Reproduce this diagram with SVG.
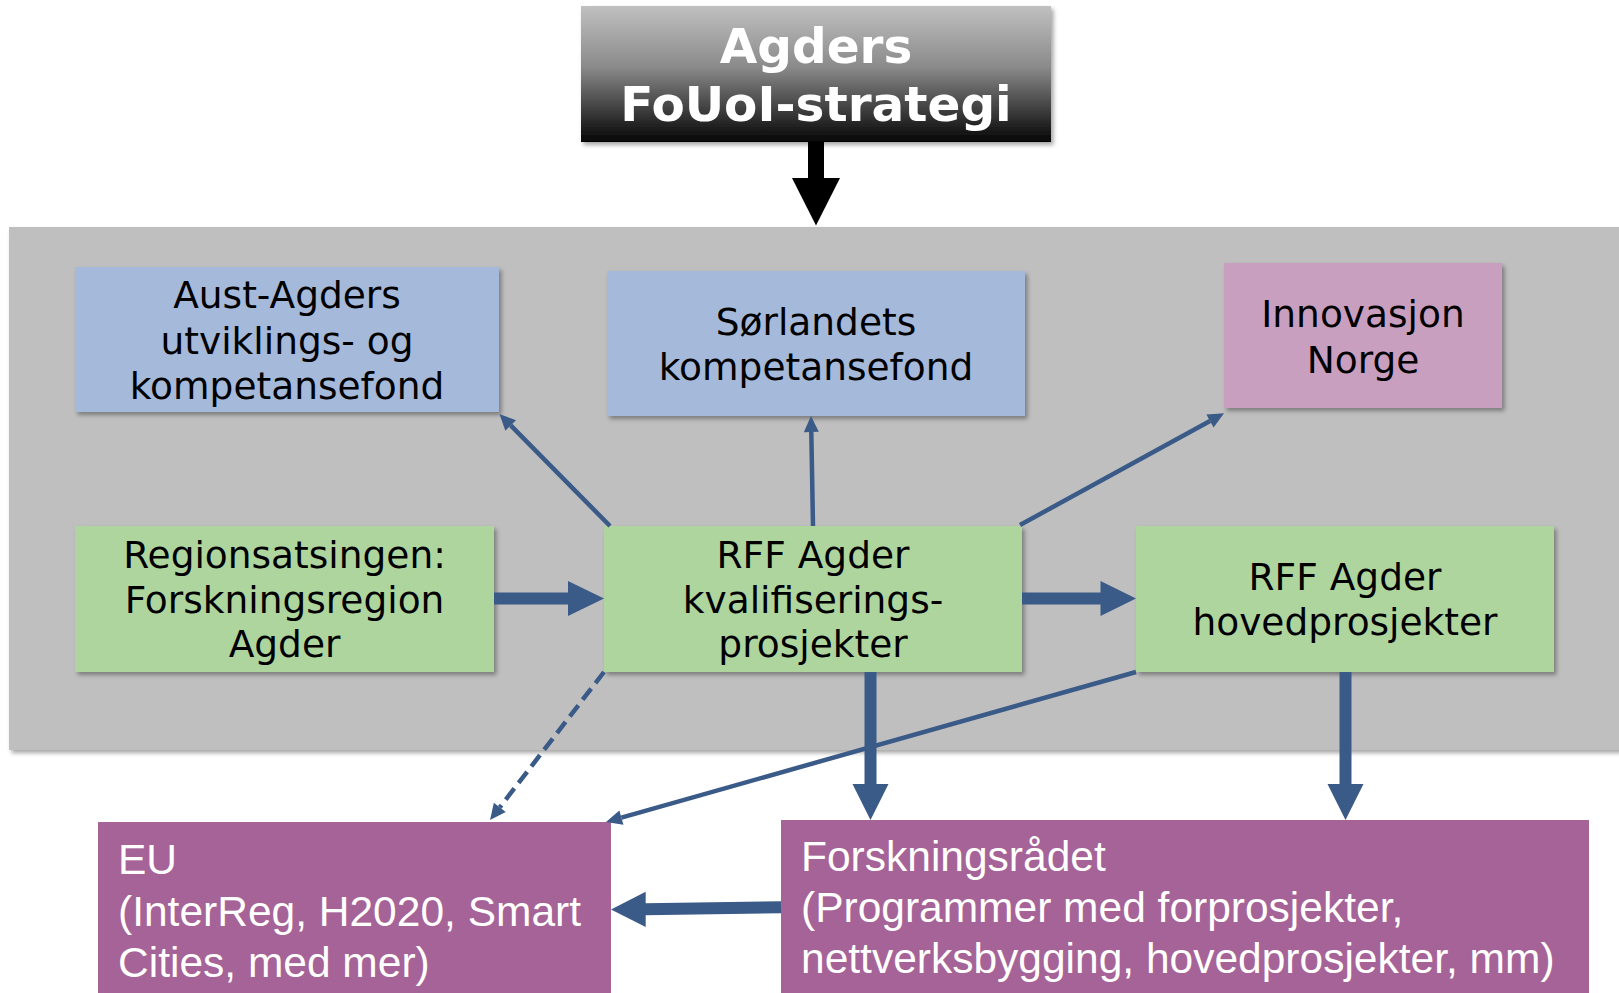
<svg xmlns="http://www.w3.org/2000/svg" width="1619" height="993" viewBox="0 0 1619 993">
<defs>
<style>
.node{font-family:"DejaVu Sans","Verdana",sans-serif;font-size:37.5px;fill:#000;text-anchor:middle}
.title{font-family:"DejaVu Sans","Verdana",sans-serif;font-weight:bold;font-size:48.5px;fill:#fff;text-anchor:middle}
.big{font-family:"Liberation Sans",Arial,sans-serif;font-size:42.5px;fill:#fff}
.blue{fill:#a5b9da}
.green{fill:#afd59f}
.pink{fill:#c89fbf}
.purple{fill:#a66397}
.thin{stroke:#3a5a88;stroke-width:4.5;fill:none}
.thick{stroke:#3a5a88;stroke-width:12;fill:none}
.head{fill:#3a5a88}
</style>
<filter id="sh" x="-10%" y="-10%" width="130%" height="130%">
<feDropShadow dx="2.5" dy="3" stdDeviation="2" flood-color="#000" flood-opacity="0.35"/>
</filter>
<linearGradient id="tg" x1="0" y1="0" x2="0" y2="1">
<stop offset="0" stop-color="#c0c0c0"/>
<stop offset="0.45" stop-color="#8a8a8a"/>
<stop offset="1" stop-color="#050505"/>
</linearGradient>
<marker id="ah" markerUnits="userSpaceOnUse" markerWidth="16" markerHeight="16" refX="0" refY="7.5" orient="auto" overflow="visible">
<path d="M0,0 L16,7.5 L0,15 Z" fill="#3a5a88"/>
</marker>
</defs>

<g id="band">
<rect x="9" y="227" width="1620" height="523" fill="#bfbfbf" filter="url(#sh)"/>
</g>

<g id="title">
<rect x="581" y="6" width="470" height="136" fill="url(#tg)" filter="url(#sh)"/>
<text class="title" x="816" y="63">Agders</text>
<text class="title" x="816" y="120.5">FoUoI-strategi</text>
</g>

<g id="title-arrow">
<rect x="808" y="142" width="16" height="37" fill="#000"/>
<polygon points="792,178 816,225.5 840,178" fill="#000"/>
</g>

<g id="aust">
<rect class="blue" x="75" y="267" width="424" height="145" filter="url(#sh)"/>
<text class="node" x="287" y="308">Aust-Agders</text>
<text class="node" x="287" y="353.5">utviklings- og</text>
<text class="node" x="287" y="399">kompetansefond</text>
</g>

<g id="sorlandets">
<rect class="blue" x="607" y="271" width="418" height="145" filter="url(#sh)"/>
<text class="node" x="816" y="335">Sørlandets</text>
<text class="node" x="816" y="380">kompetansefond</text>
</g>

<g id="innovasjon">
<rect class="pink" x="1224" y="263" width="278" height="145" filter="url(#sh)"/>
<text class="node" x="1363" y="327">Innovasjon</text>
<text class="node" x="1363" y="372.5">Norge</text>
</g>

<g id="regionsatsingen">
<rect class="green" x="75" y="526" width="419" height="146" filter="url(#sh)"/>
<text class="node" x="284.5" y="568">Regionsatsingen:</text>
<text class="node" x="284.5" y="613">Forskningsregion</text>
<text class="node" x="284.5" y="657">Agder</text>
</g>

<g id="rff-kval">
<rect class="green" x="604" y="526" width="418" height="146" filter="url(#sh)"/>
<text class="node" x="813" y="568">RFF Agder</text>
<text class="node" x="813" y="613">kvalifiserings-</text>
<text class="node" x="813" y="657">prosjekter</text>
</g>

<g id="rff-hoved">
<rect class="green" x="1136" y="526" width="418" height="146" filter="url(#sh)"/>
<text class="node" x="1345" y="590">RFF Agder</text>
<text class="node" x="1345" y="635">hovedprosjekter</text>
</g>

<g id="eu">
<rect class="purple" x="98" y="822" width="513" height="180"/>
<text class="big" x="118" y="874">EU</text>
<text class="big" x="118" y="925.5">(InterReg, H2020, Smart</text>
<text class="big" x="118" y="977">Cities, med mer)</text>
</g>

<g id="forskningsradet">
<rect class="purple" x="781" y="820" width="808" height="182"/>
<text class="big" x="801" y="870.5">Forskningsrådet</text>
<text class="big" x="801" y="921.5">(Programmer med forprosjekter,</text>
<text class="big" x="801" y="972.5">nettverksbygging, hovedprosjekter, mm)</text>
</g>

<g id="connectors">
<line class="thin" x1="610" y1="526" x2="510.7" y2="425.4" marker-end="url(#ah)"/>
<line class="thin" x1="813" y1="526" x2="811.3" y2="432" marker-end="url(#ah)"/>
<line class="thin" x1="1020" y1="525" x2="1210" y2="421" marker-end="url(#ah)"/>
<line class="thin" x1="604" y1="672" x2="499.8" y2="807.3" stroke-width="5" stroke-dasharray="14 7" marker-end="url(#ah)"/>
<line class="thick" x1="870.5" y1="672" x2="870.5" y2="785"/>
<polygon class="head" points="852.5,784 870.5,820 888.5,784"/>
<line class="thin" x1="1136" y1="672" x2="621.4" y2="817.6" marker-end="url(#ah)"/>
<line class="thick" x1="1345.5" y1="672" x2="1345.5" y2="785"/>
<polygon class="head" points="1327.5,784 1345.5,820 1363.5,784"/>
<line class="thick" x1="494" y1="598.5" x2="569" y2="598.5"/>
<polygon class="head" points="568,581 604,598.5 568,616"/>
<line class="thick" x1="1022" y1="598.5" x2="1101.5" y2="598.5"/>
<polygon class="head" points="1100.5,581 1136,598.5 1100.5,616"/>
<line class="thick" x1="781" y1="907.3" x2="644.7" y2="909.3"/>
<polygon class="head" points="645.7,891.8 611,909.5 645.7,927"/>
</g>
</svg>
